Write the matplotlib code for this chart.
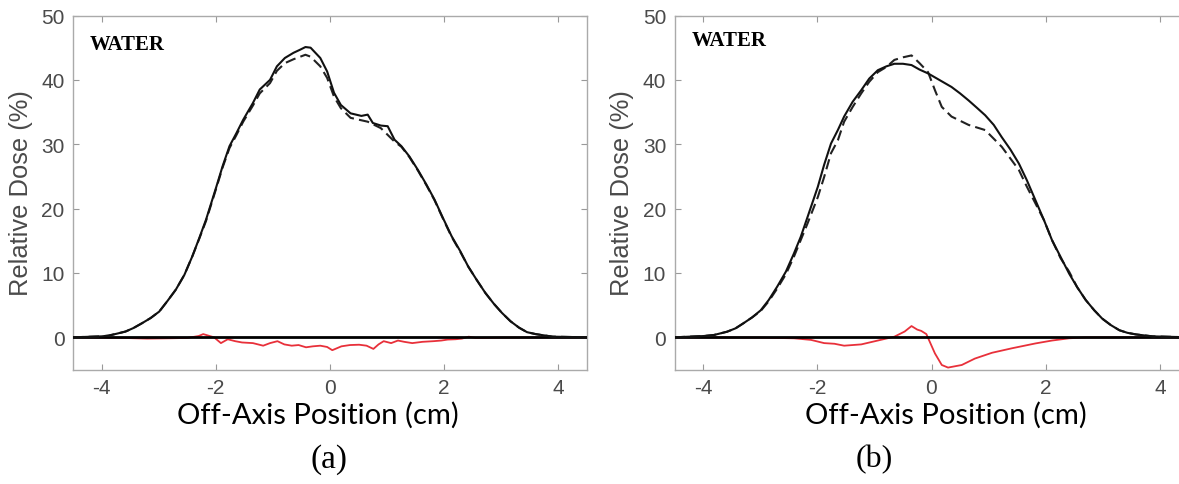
import matplotlib.pyplot as plt

plt.rcParams['axes.unicode_minus'] = False

# ---- panel (a) data ----
xa_calc = [-4.5, -4.0, -3.88, -3.73, -3.58, -3.44, -3.29, -3.14, -2.99, -2.85, -2.70, -2.55,
           -2.41, -2.29, -2.17, -1.99, -1.88, -1.76, -1.64, -1.52, -1.35, -1.23, -1.05,
           -0.93, -0.79, -0.64, -0.52, -0.43, -0.34, -0.17, -0.05, 0.07, 0.19, 0.36, 0.55,
           0.66, 0.75, 0.89, 1.01, 1.13, 1.25, 1.39, 1.54, 1.69, 1.83, 1.98, 2.13, 2.28,
           2.42, 2.57, 2.72, 2.87, 3.01, 3.16, 3.31, 3.45, 3.60, 3.90, 4.5]
ya_calc = [0.0, 0.15, 0.26, 0.57, 0.9, 1.45, 2.2, 3.0, 4.0, 5.6, 7.4, 9.7,
           12.6, 15.4, 18.3, 23.4, 26.6, 29.7, 31.7, 33.8, 36.4, 38.5, 40.0,
           42.1, 43.4, 44.2, 44.7, 45.1, 45.0, 43.4, 41.3, 38.0, 36.1, 34.8, 34.4,
           34.6, 33.3, 32.9, 32.8, 30.7, 29.7, 28.1, 26.0, 23.7, 21.4, 18.5, 15.7, 13.4,
           11.0, 8.9, 6.9, 5.2, 3.8, 2.5, 1.5, 0.8, 0.5, 0.1, 0.0]
xa_meas = [-4.5, -4.0, -3.88, -3.73, -3.58, -3.44, -3.29, -3.14, -2.99, -2.85, -2.70, -2.55,
           -2.41, -2.29, -2.17, -1.99, -1.88, -1.76, -1.64, -1.52, -1.35, -1.23, -1.05,
           -0.93, -0.79, -0.64, -0.52, -0.43, -0.34, -0.17, -0.05, 0.07, 0.19, 0.36, 0.66,
           0.89, 1.13, 1.25, 1.39, 1.54, 1.69, 1.83, 1.98, 2.13, 2.28,
           2.42, 2.57, 2.72, 2.87, 3.01, 3.16, 3.31, 3.45, 3.60, 3.90, 4.5]
ya_meas = [0.0, 0.15, 0.26, 0.57, 0.9, 1.45, 2.2, 3.0, 4.0, 5.6, 7.4, 9.7,
           12.6, 15.3, 18.1, 23.2, 26.4, 29.4, 31.4, 33.5, 36.0, 37.9, 39.5,
           41.4, 42.6, 43.2, 43.6, 43.9, 43.6, 42.1, 40.3, 37.4, 35.6, 34.1, 33.5,
           32.5, 30.4, 29.6, 28.0, 25.9, 23.6, 21.3, 18.4, 15.6, 13.3,
           11.0, 8.9, 6.9, 5.2, 3.8, 2.5, 1.5, 0.8, 0.5, 0.1, 0.0]
xa_diff = [-4.5, -3.6, -3.2, -2.8, -2.5, -2.30, -2.22, -2.03, -1.91, -1.79, -1.66, -1.54,
           -1.35, -1.17, -1.05, -0.92, -0.80, -0.67, -0.55, -0.42, -0.30, -0.17, -0.05,
           0.04, 0.20, 0.35, 0.51, 0.64, 0.76, 0.85, 0.94, 1.07, 1.19, 1.30, 1.44, 1.62,
           1.81, 1.95, 2.06, 2.20, 2.31, 2.43, 2.55, 2.67, 3.0, 4.5]
ya_diff = [0.0, -0.1, -0.2, -0.15, -0.1, 0.2, 0.5, 0.0, -0.9, -0.3, -0.6, -0.8,
           -0.9, -1.3, -0.9, -0.6, -1.1, -1.3, -1.2, -1.55, -1.4, -1.3, -1.5,
           -2.0, -1.4, -1.2, -1.15, -1.3, -1.8, -1.1, -0.6, -0.9, -0.5, -0.7, -0.9, -0.7,
           -0.6, -0.5, -0.35, -0.3, -0.2, 0.1, -0.1, -0.1, -0.05, 0.0]

# ---- panel (b) data ----
xb_calc = [-4.5, -3.99, -3.81, -3.58, -3.43, -3.29, -3.14, -2.99, -2.85, -2.70, -2.55,
           -2.41, -2.29, -2.17, -1.99, -1.88, -1.76, -1.64, -1.53, -1.38, -1.23, -1.09,
           -0.94, -0.79, -0.65, -0.50, -0.35, -0.21, -0.06, 0.35, 0.50, 0.65, 0.79, 0.94,
           1.09, 1.23, 1.38, 1.53, 1.67, 1.82, 1.97, 2.11, 2.26, 2.41, 2.55, 2.70, 2.85,
           2.99, 3.14, 3.29, 3.43, 3.58, 3.87, 4.5]
yb_calc = [0.0, 0.2, 0.36, 0.87, 1.4, 2.2, 3.1, 4.2, 5.8, 7.9, 10.2,
           13.0, 15.6, 18.7, 23.4, 26.8, 30.1, 32.2, 34.3, 36.6, 38.4, 40.2,
           41.5, 42.1, 42.5, 42.5, 42.3, 41.6, 41.0, 38.9, 37.9, 36.8, 35.7, 34.5,
           33.0, 31.1, 29.2, 27.0, 24.4, 21.3, 18.2, 15.1, 12.5, 9.9, 7.8, 5.8, 4.2,
           2.9, 1.9, 1.1, 0.7, 0.45, 0.15, 0.0]
xb_meas = [-4.5, -3.99, -3.81, -3.58, -3.43, -3.29, -3.14, -2.99, -2.85, -2.70, -2.55,
           -2.41, -2.29, -2.17, -1.99, -1.88, -1.76, -1.64, -1.53, -1.38, -1.23, -1.09,
           -0.94, -0.79, -0.65, -0.50, -0.35, -0.21, -0.06, 0.06, 0.18, 0.35, 0.65, 0.94,
           1.23, 1.53, 1.67, 1.82, 1.97, 2.11, 2.26, 2.41, 2.55, 2.70, 2.85,
           2.99, 3.14, 3.29, 3.43, 3.58, 3.87, 4.5]
yb_meas = [0.0, 0.2, 0.36, 0.87, 1.4, 2.2, 3.1, 4.1, 5.6, 7.6, 9.8,
           12.5, 15.1, 17.7, 21.8, 24.9, 28.6, 30.6, 33.5, 35.8, 37.9, 39.7,
           41.2, 42.0, 43.1, 43.5, 43.8, 42.6, 41.2, 38.4, 35.8, 34.3, 33.0, 32.2,
           29.6, 26.0, 23.4, 20.8, 18.2, 15.1, 12.3, 10.2, 7.8, 5.8, 4.2,
           2.9, 1.9, 1.1, 0.7, 0.45, 0.15, 0.0]
xb_diff = [-4.5, -3.0, -2.41, -2.11, -1.88, -1.70, -1.53, -1.23, -0.94, -0.65, -0.47, -0.35,
           -0.25, -0.18, -0.09, 0.06, 0.18, 0.29, 0.53, 0.76, 1.06, 1.41, 1.82, 2.11, 2.41,
           2.70, 4.5]
yb_diff = [0.0, -0.05, -0.15, -0.4, -0.9, -1.0, -1.3, -1.1, -0.5, 0.1, 0.9, 1.75,
           1.2, 1.0, 0.5, -2.5, -4.3, -4.7, -4.3, -3.3, -2.4, -1.7, -0.95, -0.5, -0.15,
           -0.02, 0.0]

xticks = [-4, -2, 0, 2, 4]
yticks = [0, 10, 20, 30, 40, 50]

W, H = 1179, 485
fig = plt.figure(figsize=(W / 100, H / 100), dpi=100)

panels = [
    (73, xa_calc, ya_calc, xa_meas, ya_meas, xa_diff, ya_diff, 318, 329, '(a)', 90, 45),
    (674.5, xb_calc, yb_calc, xb_meas, yb_meas, xb_diff, yb_diff, 946, 874, '(b)', 692, 41.5),
]

fit = []  # (text, target size in px, 'w' or 'h')
for left, xc, yc, xm, ym, xd, yd, xlab_x, tag_x, tag, wx, wy in panels:
    ax = fig.add_axes([left / W, (H - 370.5) / H, 514 / W, 354 / H])
    ax.plot(xd, yd, color='#e8303a', lw=1.3, zorder=2)
    ax.axhline(0, color='black', lw=2.0, zorder=3)
    ax.plot(xm, ym, color='#222222', lw=1.5, ls=(0, (5, 2.5)), zorder=4)
    ax.plot(xc, yc, color='#111111', lw=1.5, zorder=5)
    ax.set_xlim(-4.5, 4.5)
    ax.set_ylim(-5, 50)
    ax.set_xticks(xticks)
    ax.set_yticks(yticks)
    ax.tick_params(direction='in', top=True, right=True, length=4, color='#999999',
                   labelcolor='#4a4a4a', labelsize=15, pad=6)
    for lab in ax.get_xticklabels() + ax.get_yticklabels():
        lab.set_family('Liberation Sans')
    for s in ax.spines.values():
        s.set_color('#aaaaaa')
        s.set_linewidth(1.0)
    yl = ax.set_ylabel('Relative Dose (%)', fontsize=18, color='#4a4a4a',
                       family='Liberation Sans')
    ax.yaxis.set_label_coords(-0.078, 0.5)
    wt = fig.text(wx / W, 1 - wy / H, 'WATER', fontsize=15, fontweight='bold',
                  family='Liberation Serif', va='center', ha='left')
    xl = fig.text(xlab_x / W, 1 - 415 / H, 'Off-Axis Position (cm)', ha='center',
                  va='center', fontsize=20, family='Lato')
    tg = fig.text(tag_x / W, 1 - 460 / H, tag, ha='center', va='center',
                  fontsize=22, family='Liberation Serif')
    fit += [(yl, 205, 'h'), (wt, 75, 'w'), (xl, 282, 'w'), (tg, 37, 'w')]

# scale text sizes so their extents match the reference
r = fig.canvas.get_renderer()
for t, target, dim in fit:
    bb = t.get_window_extent(renderer=r)
    cur = bb.height if dim == 'h' else bb.width
    t.set_fontsize(t.get_fontsize() * target / cur)

fig.savefig('out.png', dpi=100)
